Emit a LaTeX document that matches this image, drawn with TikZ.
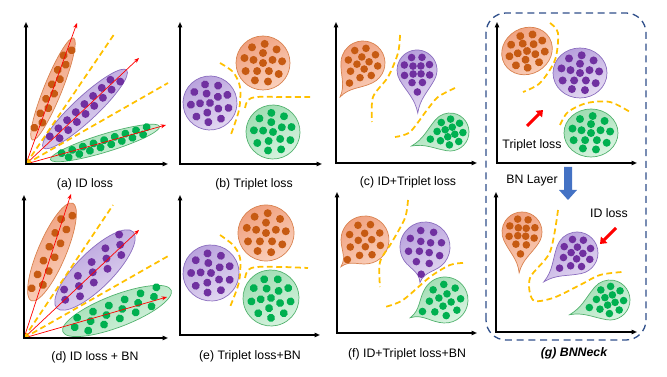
\documentclass[tikz,border=0pt]{standalone}
\usepackage{fontspec}
\setmainfont{Liberation Sans}
\usetikzlibrary{arrows.meta}
\definecolor{orline}{HTML}{D9824F}
\definecolor{orlight}{HTML}{FAD0BC}
\definecolor{ordeep}{HTML}{F0A07E}
\definecolor{ordot}{HTML}{C65A12}
\definecolor{puline}{HTML}{8B6DBF}
\definecolor{pulight}{HTML}{E4DAF2}
\definecolor{pudeep}{HTML}{B7A0DC}
\definecolor{pudot}{HTML}{7030A0}
\definecolor{grline}{HTML}{52B26E}
\definecolor{grlight}{HTML}{D9F4E1}
\definecolor{grdeep}{HTML}{9EDCB1}
\definecolor{grdot}{HTML}{00B050}
\definecolor{marginyellow}{HTML}{FFC000}
\definecolor{lossred}{HTML}{FF0000}
\definecolor{neckblue}{HTML}{2F4F8A}
\definecolor{layerblue}{HTML}{4472C4}
\tikzset{
  axis line/.style={line width=1.4pt,
    {Triangle[length=4.5pt,width=3.6pt]}-{Triangle[length=4.5pt,width=3.6pt]}},
  margin line/.style={draw=marginyellow, line width=1.5pt, dash pattern=on 5pt off 3pt},
  feature ray/.style={draw=lossred, line width=0.6pt, -{Stealth[length=4.5pt,width=3.5pt]}},
  loss arrow/.style={draw=lossred, line width=2.6pt, -{Triangle[length=5pt,width=7.5pt]}},
  neck frame/.style={draw=neckblue, line width=1.1pt, dash pattern=on 6pt off 4pt,
    rounded corners=0.6cm},
  caption/.style={font=\fontsize{10.5}{12}\selectfont},
  loss label/.style={font=\fontsize{10.5}{12}\selectfont},
  or blob/.style={draw=orline, line width=0.6pt, left color=ordeep, right color=orlight, shading angle=30},
  pu blob/.style={draw=puline, line width=0.6pt, left color=pudeep, right color=pulight, shading angle=30},
  gr blob/.style={draw=grline, line width=0.6pt, left color=grdeep, right color=grlight, shading angle=30},
  or dot/.style={fill=ordot},
  pu dot/.style={fill=pudot},
  gr dot/.style={fill=grdot}
}
\newcommand{\featSpindle}[9]{%
  \begin{scope}[shift={(#1,#2)},rotate=#3]
    \draw[#6 blob] (0,0) ellipse[x radius=#4, y radius=#5];
    \foreach \i in {1,...,#7}{
      \pgfmathsetmacro\dotu{-0.78*#4+1.56*#4*(\i-1)/(#7-1)}
      \pgfmathsetmacro\dotv{(mod(\i,#8)-(#8-1)/2)*#9}
      \fill[#6 dot] (\dotu,\dotv) circle[radius=4];
    }
  \end{scope}%
}
\newcommand{\featBall}[6]{%
  \begin{scope}[shift={(#1,#2)},rotate=#5]
    \draw[#6 blob] (0,0) ellipse[x radius=#3, y radius=#4];
    \fill[#6 dot] (0,0) circle[radius=4];
    \foreach \k in {0,...,4}
      \fill[#6 dot] ({0.37*#3*cos(72*\k+18)},{0.37*#4*sin(72*\k+18)}) circle[radius=4];
    \foreach \k in {0,...,8}
      \fill[#6 dot] ({0.71*#3*cos(40*\k+5)},{0.71*#4*sin(40*\k+5)}) circle[radius=4];
  \end{scope}%
}
\newcommand{\featDrop}[6]{%
  \pgfmathsetmacro\dropS{#4+60}
  \pgfmathsetmacro\dropE{#4+30}
  \pgfmathsetmacro\dropIn{#4+190}
  \pgfmathsetmacro\dropOut{#4+170}
  \pgfmathsetmacro\dropBack{#4-30}
  \begin{scope}[shift={(#1,#2)}]
    \draw[#6 blob] (\dropS:#3) arc[start angle=\dropS, delta angle=240, radius=#3]
      to[out=\dropE, in=\dropIn] (#4:#5)
      to[out=\dropOut, in=\dropBack] (\dropS:#3) -- cycle;
    \foreach \k in {0,...,3}
      \fill[#6 dot] ({#4+45+90*\k}:{0.28*#3}) circle[radius=3.8];
    \foreach \k in {0,...,7}
      \fill[#6 dot] ({#4+22.5+45*\k}:{0.68*#3}) circle[radius=3.8];
    \fill[#6 dot] (#4:{1.1*#3}) circle[radius=3.8];
  \end{scope}%
}

\begin{document}
\begin{tikzpicture}[x=0.03cm,y=0.03cm]
  \useasboundingbox (0,0) rectangle (667,377);

  % (a)
  \coordinate (oa) at (26,213);
  \featSpindle{53}{288}{68}{55}{9}{or}{12}{2}{5.5}
  \featSpindle{85}{268}{43}{57}{12}{pu}{16}{2}{8}
  \featSpindle{105}{234}{17}{57}{9}{gr}{17}{2}{6}
  \draw[feature ray] (oa) -- (77,354);
  \draw[feature ray] (oa) -- (139,319);
  \draw[feature ray] (oa) -- (166,252);
  \draw[margin line] (oa) -- (115,344);
  \draw[margin line] (oa) -- (168,294);
  \draw[axis line] (26,355) -- (oa) -- (168,213);
  \node[caption] (capA) at (85,193) {(a) ID loss};

  % (b)
  \featBall{263}{314}{27}{27}{0}{or}
  \featBall{210}{274}{27}{27}{20}{pu}
  \featBall{273}{245}{27}{27}{10}{gr}
  \draw[margin line] plot[smooth] coordinates {(220,314) (233,305) (240,290) (239,267) (230,240)};
  \draw[margin line] plot[smooth] coordinates {(245,269) (248,277) (257,280) (283,280) (310,280)};
  \draw[axis line] (180,355) -- (180,213) -- (322,213);
  \node[caption] (capB) at (254,193) {(b) Triplet loss};

  % (c)
  \featDrop{363}{314}{22}{236}{41}{or}
  \featDrop{417}{307}{20}{271}{43}{pu}
  \featDrop{450}{245}{19}{200}{41}{gr}
  \draw[margin line] plot[smooth] coordinates {(400,342) (398,324) (388,300) (373,280) (372,255)};
  \draw[margin line] plot[smooth] coordinates {(455,289) (438,280) (427,267) (410,245) (395,240)};
  \draw[axis line] (336,355) -- (336,214) -- (477,214);
  \node[caption] (capC) at (408,195) {(c) ID+Triplet loss};

  % (g) before BN
  \featBall{527}{326}{26}{23}{30}{or}
  \featBall{580}{304}{27}{25}{0}{pu}
  \featBall{591}{244}{27}{24}{0}{gr}
  \draw[margin line] plot[smooth] coordinates {(550,354) (558,344) (555,317) (540,294) (523,285)};
  \draw[margin line] plot[smooth] coordinates {(560,252) (568,265) (587,274) (610,275) (630,265)};
  \draw[axis line] (497,355) -- (497,214) -- (637,214);
  \node[loss label] (tripletLoss) at (532,232) {Triplet loss};
  \draw[loss arrow] (527,251) -- (543,267);
  \node[loss label] (bnLayer) at (532,196) {BN Layer};
  \fill[layerblue] (564,210) -- (572,210) -- (572,187) -- (577,187) -- (568,177)
    -- (559,187) -- (564,187) -- cycle;

  % (d)
  \coordinate (od) at (24,39);
  \featSpindle{52}{125}{67}{53}{14}{or}{12}{2}{9}
  \featSpindle{95}{107}{45}{54}{18}{pu}{14}{3}{8}
  \featSpindle{117}{66}{21}{58}{16}{gr}{17}{3}{8}
  \draw[feature ray] (od) -- (71,183);
  \draw[feature ray] (od) -- (139,147);
  \draw[feature ray] (od) -- (167,80);
  \draw[margin line] (od) -- (113,172);
  \draw[margin line] (od) -- (170,122);
  \draw[axis line] (24,182) -- (od) -- (168,39);
  \node[caption] (capD) at (95,20) {(d) ID loss + BN};

  % (e)
  \featBall{266}{144}{28}{28}{0}{or}
  \featBall{211}{104}{28}{28}{15}{pu}
  \featBall{271}{79}{28}{28}{25}{gr}
  \draw[margin line] plot[smooth] coordinates {(220,142) (233,132) (240,119) (239,95) (230,70)};
  \draw[margin line] plot[smooth] coordinates {(245,99) (248,107) (257,110) (283,110) (308,109)};
  \draw[axis line] (180,182) -- (180,42) -- (320,42);
  \node[caption] (capE) at (250,21) {(e) Triplet loss+BN};

  % (f)
  \featDrop{365}{137}{24}{228}{36}{or}
  \featDrop{425}{130}{25}{262}{36}{pu}
  \featDrop{445}{77}{23}{207}{39}{gr}
  \draw[margin line] plot[smooth] coordinates {(408,177) (405,159) (392,135) (380,115) (380,90)};
  \draw[margin line] plot[smooth] coordinates {(463,114) (450,112) (430,100) (403,77) (385,70)};
  \draw[axis line] (337,185) -- (337,44) -- (477,44);
  \node[caption] (capF) at (407,23) {(f) ID+Triplet loss+BN};

  % (g) after BN
  \featDrop{522}{145}{20}{266}{41}{or}
  \featDrop{577}{124}{21}{221}{44}{pu}
  \featDrop{610}{77}{20}{200}{43}{gr}
  \draw[margin line] plot[smooth] coordinates {(558,167) (550,125) (530,99) (533,77) (553,79) (580,92) (600,102) (622,105)};
  \draw[axis line] (496,185) -- (496,45) -- (637,45);
  \node[loss label] (idLoss) at (609,164) {ID loss};
  \draw[loss arrow] (616,149) -- (600,133);
  \node[caption,font=\fontsize{10.5}{12}\selectfont\bfseries\itshape] (capG) at (574,24) {(g) BNNeck};

  \draw[neck frame] (486,37) rectangle (646,364);
\end{tikzpicture}
\end{document}
